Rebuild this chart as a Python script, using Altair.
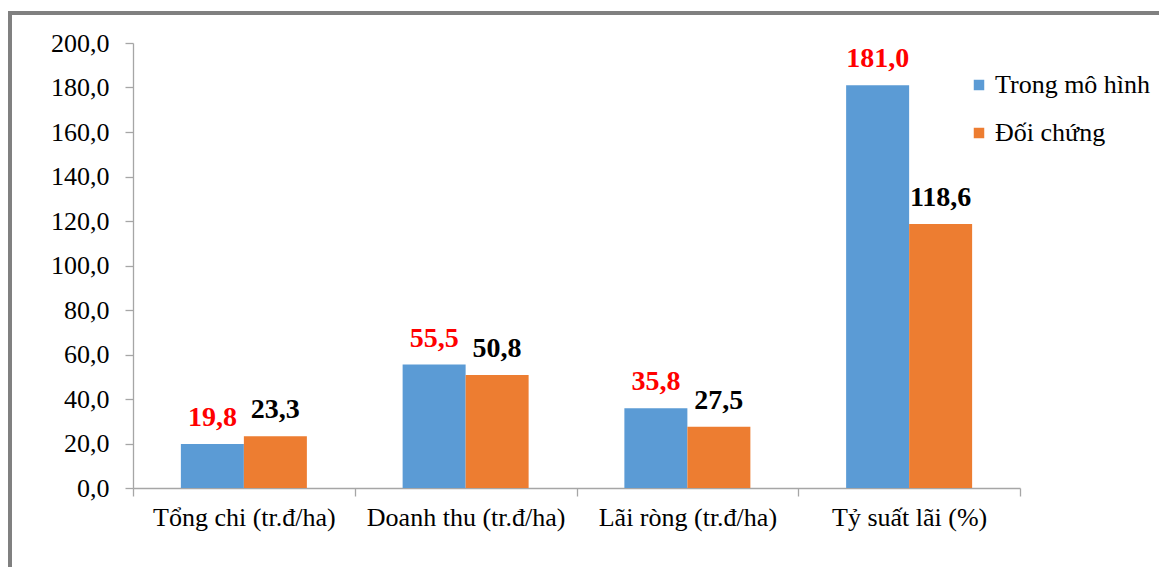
import altair as alt
import pandas as pd

categories = ["Tổng chi (tr.đ/ha)", "Doanh thu (tr.đ/ha)", "Lãi ròng (tr.đ/ha)", "Tỷ suất lãi (%)"]
series = ["Trong mô hình", "Đối chứng"]
model_values = [19.8, 55.5, 35.8, 181.0]
control_values = [23.3, 50.8, 27.5, 118.6]
y_ticks = [0, 20, 40, 60, 80, 100, 120, 140, 160, 180, 200]

rows = []
for c, m, k in zip(categories, model_values, control_values):
    rows.append({"cat": c, "series": series[0], "value": m})
    rows.append({"cat": c, "series": series[1], "value": k})
df = pd.DataFrame(rows)

FONT = "Liberation Serif, Times New Roman, serif"
GRAY = "#a6a6a6"

x_enc = alt.X("cat:N", sort=categories, title=None,
              scale=alt.Scale(paddingInner=0, paddingOuter=0),
              axis=alt.Axis(labelAngle=0, tickBand="extent", labelPadding=8, labelLimit=0))
xo_enc = alt.XOffset("series:N", sort=series, scale=alt.Scale(paddingOuter=0.76, paddingInner=0))
y_enc = alt.Y("value:Q", title=None,
              scale=alt.Scale(domain=[0, 200], nice=False),
              axis=alt.Axis(values=y_ticks, grid=False, labelPadding=16,
                            labelExpr="replace(format(datum.value, '.1f'), '.', ',')"))

bars = alt.Chart(df).mark_bar().encode(
    x=x_enc, xOffset=xo_enc, y=y_enc,
    color=alt.Color("series:N", sort=series,
                    scale=alt.Scale(domain=series, range=["#5B9BD5", "#ED7D31"]),
                    legend=alt.Legend(title=None, orient="none", legendX=833, legendY=29,
                                      symbolType="square", symbolSize=110, symbolStrokeWidth=0,
                                      labelFont=FONT, labelFontSize=26, labelColor="#000000",
                                      labelLimit=400, rowPadding=22, labelOffset=3)),
)

labels = alt.Chart(df).transform_calculate(
    label="replace(format(datum.value, '.1f'), '.', ',')"
).mark_text(baseline="alphabetic", dy=-18, fontSize=28, fontWeight="bold", font=FONT).encode(
    x=alt.X("cat:N", sort=categories),
    xOffset=alt.XOffset("series:N", sort=series),
    y="value:Q",
    text="label:N",
    color=alt.Color("series:N", sort=series,
                    scale=alt.Scale(domain=series, range=["#FF0000", "#000000"]),
                    legend=None),
)

frame_top = alt.Chart(df).mark_rule(color="#808080", strokeWidth=4).encode(
    x=alt.value(-123), x2=alt.value(1030), y=alt.value(-30)
)
frame_left = alt.Chart(df).mark_rule(color="#808080", strokeWidth=4).encode(
    x=alt.value(-123), y=alt.value(-32), y2=alt.value(530)
)

chart = alt.layer(bars, labels, frame_top, frame_left).resolve_scale(color="independent").properties(
    width=887, height=445,
    autosize=alt.AutoSizeParams(type="none"),
    padding={"left": 133, "top": 43, "right": 139, "bottom": 79},
    background="#ffffff",
).configure_view(stroke=None).configure_axis(
    labelFont=FONT, labelFontSize=26, labelColor="#000000",
    domainColor=GRAY, tickColor=GRAY, tickSize=8, domainWidth=1.3, tickWidth=1.3,
)

chart.save("out.html", embed_options={"renderer": "svg", "actions": False})
